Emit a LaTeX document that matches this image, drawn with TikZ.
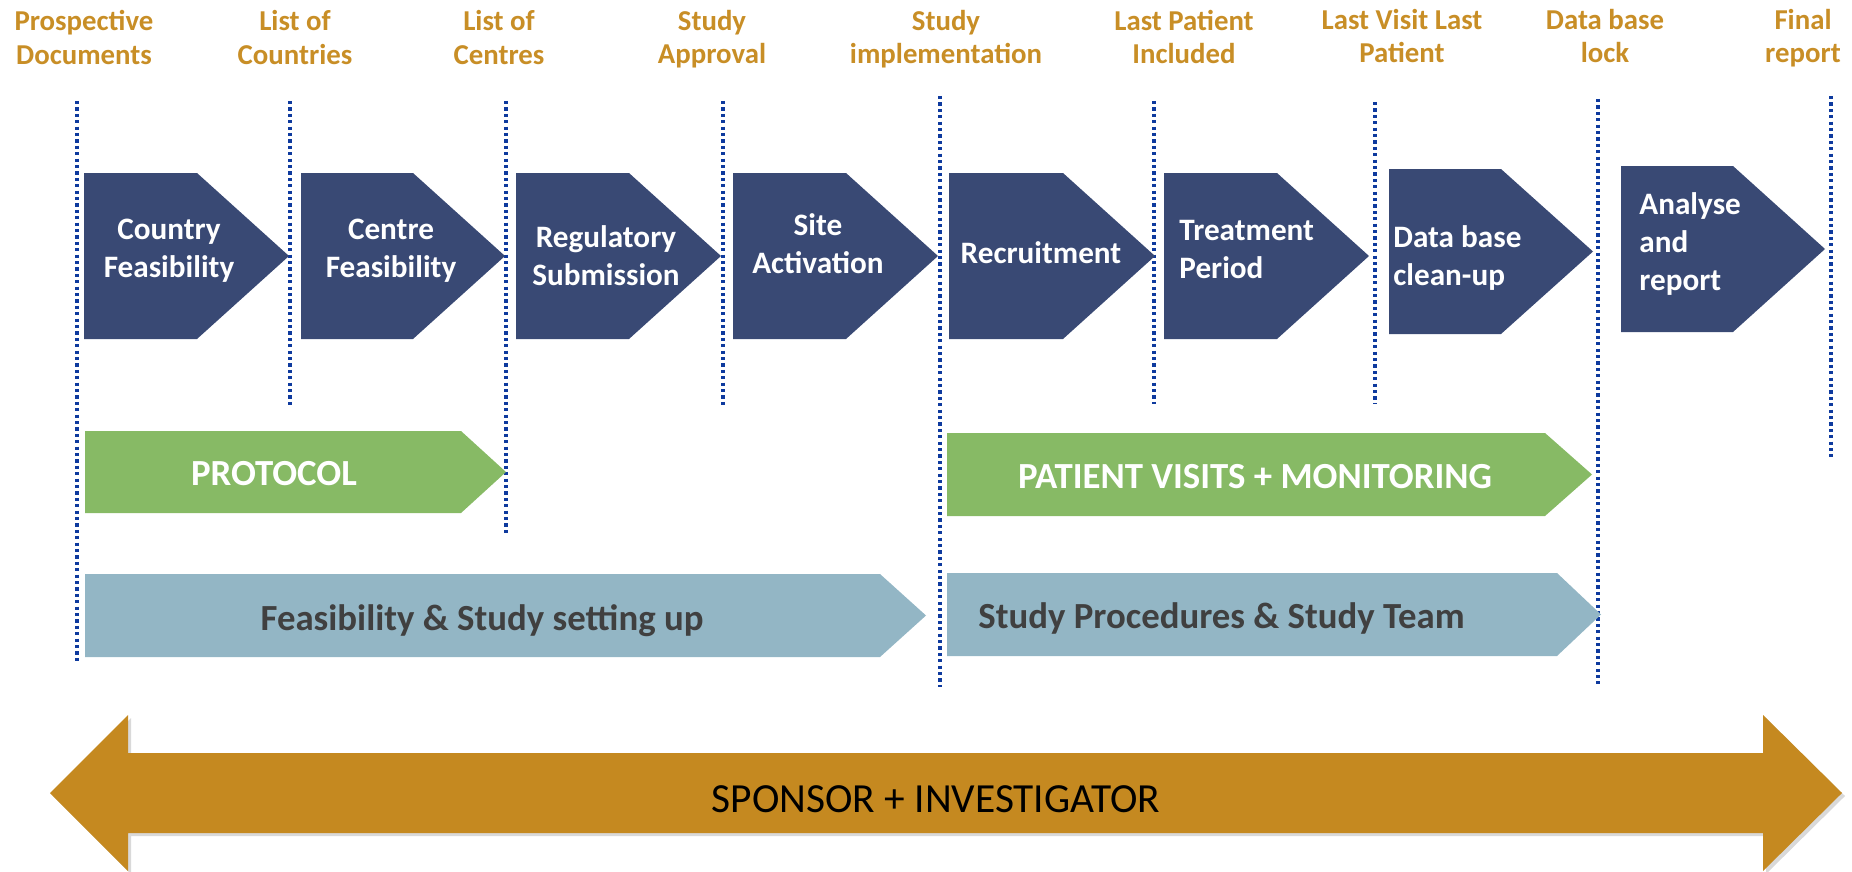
\documentclass[tikz,border=0pt]{standalone}
\usepackage{fontspec}
\setmainfont{Carlito}
\usetikzlibrary{shadows}

\definecolor{navy}{RGB}{57,73,116}
\definecolor{leaf}{RGB}{135,186,101}
\definecolor{steel}{RGB}{147,182,197}
\definecolor{ochre}{RGB}{197,137,32}
\definecolor{labelgold}{RGB}{200,142,38}
\definecolor{rulecol}{RGB}{14,58,158}
\definecolor{ink}{RGB}{64,64,64}

% pentagon arrow: style, left, top, bottom, tip x, tip depth
\newcommand{\arrowbox}[6]{%
  \fill[#1] (#2,#3) -- ({#5-#6},#3) -- (#5,{(#3+#4)/2}) -- ({#5-#6},#4) -- (#2,#4) -- cycle;}

\tikzset{
  milestone/.style={font=\bfseries\fontsize{14.4}{17}\selectfont, text=labelgold,
    align=center, anchor=base, inner sep=0pt},
  steptext/.style={font=\bfseries\fontsize{15.6}{19}\selectfont, text=white,
    inner sep=0pt},
  bartext/.style={font=\bfseries\fontsize{18.4}{22}\selectfont, inner sep=0pt},
  divider/.style={draw=rulecol, line width=1.6pt, dash pattern=on 1.6pt off 1.6pt},
}

\begin{document}
\begin{tikzpicture}[x=0.5pt,y=-0.5pt]
\useasboundingbox (0,0) rectangle (1852,872);

% milestones along the top (positioned on the baseline of their last line)
\node[milestone] (m1) at (84,65)   {Prospective\\Documents};
\node[milestone] (m2) at (295,65)  {List of\\Countries};
\node[milestone] (m3) at (499,65)  {List of\\Centres};
\node[milestone] (m4) at (712,64)  {Study\\Approval};
\node[milestone] (m5) at (946,64)  {Study\\implementation};
\node[milestone] (m6) at (1184,64) {Last Patient\\Included};
\node[milestone] (m7) at (1402,63) {Last Visit Last\\Patient};
\node[milestone] (m8) at (1605,63) {Data base\\lock};
\node[milestone] (m9) at (1803,63) {Final\\report};

% dotted dividers under each milestone
\foreach \n/\x/\t/\b in {1/77/101/662, 2/290/101/405, 3/506/101/533,
    4/723/101/408, 5/940/96/687, 6/1154/101/404, 7/1375/102/404,
    8/1598/99/684, 9/1831/96/457}{
  \coordinate (d\n-top) at (\x,\t);
  \coordinate (d\n-bot) at (\x,\b);
  \draw[divider] (d\n-top) -- (d\n-bot);
}

% process steps
\arrowbox{navy}{84}{173}{339}{289}{92}
\arrowbox{navy}{301}{173}{339}{505}{92}
\arrowbox{navy}{516}{173}{339}{721}{92}
\arrowbox{navy}{733}{173}{339}{938}{92}
\arrowbox{navy}{949}{173}{339}{1155}{92}
\arrowbox{navy}{1164}{173}{339}{1369}{92}
\arrowbox{navy}{1389}{169}{334}{1593}{92}
\arrowbox{navy}{1621}{166}{332}{1825}{92}

\node[steptext, align=center, anchor=base] (s1) at (169,277) {Country\\Feasibility};
\node[steptext, align=center, anchor=base] (s2) at (391,277) {Centre\\Feasibility};
\node[steptext, align=center, anchor=base] (s3) at (606,285) {Regulatory\\Submission};
\node[steptext, align=center, anchor=base] (s4) at (818,273) {Site\\Activation};
\node[steptext, anchor=base] (s5) at (1041,263) {Recruitment};
\node[steptext, align=left, anchor=base west] (s6) at (1179,278) {Treatment\\Period};
\node[steptext, align=left, anchor=base west] (s7) at (1393,285) {Data base\\clean-up};
\node[steptext, align=left, anchor=base west] (s8) at (1639,290) {Analyse\\and\\report};

% phase bars
\arrowbox{leaf}{85}{431}{513}{506}{45}
\arrowbox{leaf}{947}{433}{516}{1592}{47}
\arrowbox{steel}{85}{574}{657}{926}{46}
\arrowbox{steel}{947}{573}{656}{1601}{44}

\node[bartext, text=white, anchor=base] (p1) at (274,485) {PROTOCOL};
\node[bartext, text=white, anchor=base] (p2) at (1255,488) {PATIENT VISITS + MONITORING};
\node[bartext, text=ink, anchor=base] (p3) at (482,630) {Feasibility \& Study setting up};
\node[bartext, text=ink, anchor=base west] (p4) at (978,628) {Study Procedures \& Study Team};

% shared responsibility arrow
\fill[ochre, drop shadow={shadow xshift=1.5pt, shadow yshift=-1.5pt, opacity=0.3}]
  (50,793) -- (128,715) -- (128,753) -- (1763,753) -- (1763,715) -- (1842,793)
  -- (1763,871) -- (1763,833) -- (128,833) -- (128,871) -- cycle;
\node[font=\fontsize{20.7}{24}\selectfont, text=black, inner sep=0pt, anchor=base]
  (sponsor) at (936,812) {SPONSOR + INVESTIGATOR};

\end{tikzpicture}
\end{document}
